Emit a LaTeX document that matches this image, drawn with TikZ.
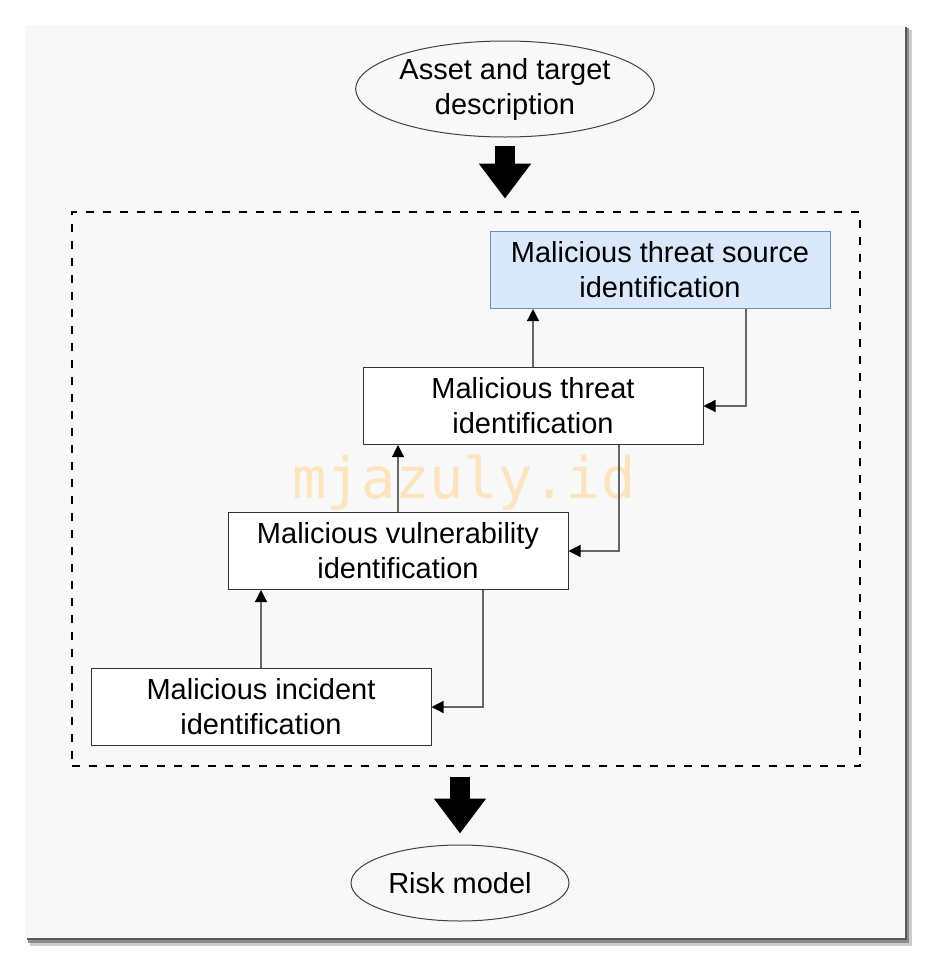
\documentclass[tikz,border=0pt]{standalone}
\usepackage{fontspec}
\setmainfont{Liberation Sans}
\newfontfamily\markfont{DejaVu Sans Mono}
\usetikzlibrary{shapes.geometric,arrows.meta}
\definecolor{panelgray}{HTML}{F8F8F8}
\definecolor{sourceblue}{HTML}{DAE8FC}
\definecolor{sourceedge}{HTML}{6C8EBF}
\definecolor{markorange}{RGB}{252,228,190}
\begin{document}
\begin{tikzpicture}[x=0.5pt, y=-0.5pt,
    every node/.style={font=\fontsize{14.5pt}{17.5pt}\selectfont, align=center},
    stepbox/.style={draw=black!80, line width=0.5pt, fill=white,
      minimum width=170pt, minimum height=38.5pt, inner sep=0pt},
    endpoint/.style={ellipse, draw=black!75, line width=0.5pt, inner sep=0pt},
    link/.style={draw=black!60, line width=0.6pt, -{Triangle[width=6pt,length=6pt,black]}},
    bigarrow/.style={line width=10pt, -{Triangle[width=25pt,length=17.5pt]}}]
  %
  % Canvas and panel
  \useasboundingbox (0,0) rectangle (930,964);
  \fill[white] (0,0) rectangle (930,964);
  \fill[black!20] (30,30) rectangle (912,946);
  \fill[black!45] (28,28) rectangle (909,943);
  \fill[black!65] (27,27) rectangle (907,940);
  \fill[panelgray] (25,25) rectangle (905,938);
  %
  % Start and end of the process
  \node[endpoint, minimum width=146pt, minimum height=48pt] (asset) at (505,89)
    {Asset and target\\description};
  \node[endpoint, minimum width=109pt, minimum height=38pt] (risk) at (460,883)
    {Risk model};
  %
  % Dashed frame round the identification steps
  \node[draw, line width=1.4pt, dash pattern=on 4pt off 4.5pt,
    minimum width=394pt, minimum height=277pt, inner sep=0pt] (frame) at (466,489) {};
  %
  % Watermark
  \node[font=\markfont\fontsize{28.5pt}{30pt}\selectfont, text=markorange] (mark)
    at (464,483) {mjazuly.id};
  %
  % Identification steps
  \node[stepbox, fill=sourceblue, draw=sourceedge] (source) at (660,270)
    {Malicious threat source\\identification};
  \node[stepbox] (threat) at (533,406) {Malicious threat\\identification};
  \node[stepbox] (vuln) at (398,551) {Malicious vulnerability\\identification};
  \node[stepbox] (incident) at (261,707) {Malicious incident\\identification};
  %
  % Upward links
  \draw[link] (threat.north) -- (threat.north |- source.south);
  \draw[link] (vuln.north) -- (vuln.north |- threat.south);
  \draw[link] (incident.north) -- (incident.north |- vuln.south);
  % Feedback links
  \draw[link] ([xshift=43pt]source.south) |- (threat.east);
  \draw[link] ([xshift=43pt]threat.south) |- (vuln.east);
  \draw[link] ([xshift=42.5pt]vuln.south) |- (incident.east);
  %
  % Big arrows in and out of the frame
  \draw[bigarrow] ([yshift=-4pt]asset.south) -- ([yshift=6pt]frame.north -| asset.south);
  \draw[bigarrow] ([yshift=-5pt]frame.south -| risk.north) -- ([yshift=5.5pt]risk.north);
\end{tikzpicture}
\end{document}
